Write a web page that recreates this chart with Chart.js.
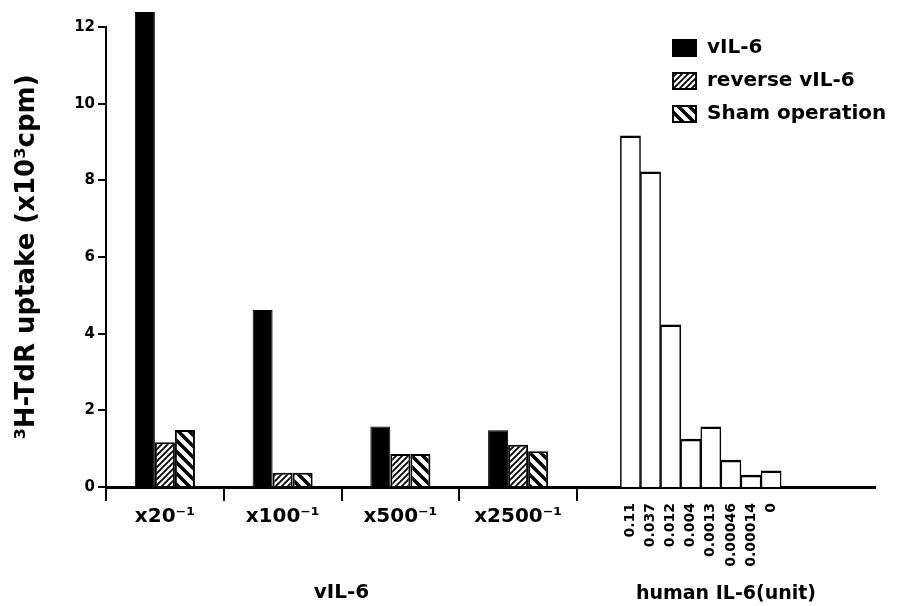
<!DOCTYPE html>
<html lang="en">

<head>
    <meta charset="UTF-8">
    <title>3H-TdR uptake</title>
    <script src="https://cdn.jsdelivr.net/npm/chart.js"></script>
    <style>
        html, body {
            margin: 0;
            padding: 0;
            background: #fff;
        }

        .container {
            position: relative;
            width: 899px;
            height: 606px;
        }

        .container canvas {
            position: absolute;
            top: 0;
            left: 0;
        }
    </style>
</head>

<body>
    <div class="container">
        <canvas id="graficoVil" width="899" height="606"></canvas>
        <canvas id="graficoHumano" width="899" height="606"></canvas>
    </div>
    <script>
        // supernatant dilutions
        const dilutions = ['x20⁻¹', 'x100⁻¹', 'x500⁻¹', 'x2500⁻¹'];
        const vil6 = [12.39, 4.62, 1.58, 1.48];
        const reverseVil6 = [1.17, 0.37, 0.86, 1.1];
        const shamOperation = [1.49, 0.37, 0.86, 0.93];

        // human IL-6 standard curve
        const humanDoses = ['0.11', '0.037', '0.012', '0.004', '0.0013', '0.00046', '0.00014', '0'];
        const humanUptake = [9.16, 8.22, 4.23, 1.25, 1.57, 0.70, 0.31, 0.42];

        Chart.defaults.font.family = '"DejaVu Sans", sans-serif';
        Chart.defaults.font.weight = 'bold';
        Chart.defaults.color = '#000';

        // both charts share the same value axis height
        const plotTop = 27;
        const xAxisHeight = 119;

        // diagonal hatch fill, "/" when forward is true, "\" otherwise
        function hatch(size, width, forward) {
            const c = document.createElement('canvas');
            c.width = size;
            c.height = size;
            const g = c.getContext('2d');
            g.fillStyle = '#fff';
            g.fillRect(0, 0, size, size);
            g.strokeStyle = '#000';
            g.lineWidth = width;
            g.beginPath();
            if (forward) {
                g.moveTo(0, size); g.lineTo(size, 0);
                g.moveTo(-size / 2, size / 2); g.lineTo(size / 2, -size / 2);
                g.moveTo(size / 2, size * 1.5); g.lineTo(size * 1.5, size / 2);
            } else {
                g.moveTo(0, 0); g.lineTo(size, size);
                g.moveTo(size / 2, -size / 2); g.lineTo(size * 1.5, size / 2);
                g.moveTo(-size / 2, size / 2); g.lineTo(size / 2, size * 1.5);
            }
            g.stroke();
            return g.createPattern(c, 'repeat');
        }

        // legend drawn as a column in the upper right corner
        const legendBox = {
            id: 'legendBox',
            afterDraw(chart, args, opts) {
                const ctx = chart.ctx;
                ctx.save();
                ctx.font = 'bold ' + opts.fontSize + 'px "DejaVu Sans"';
                ctx.textBaseline = 'middle';
                chart.data.datasets.forEach((ds, i) => {
                    const y = opts.top + i * opts.rowHeight;
                    ctx.fillStyle = ds.backgroundColor;
                    ctx.fillRect(opts.left, y - opts.boxHeight / 2, opts.boxWidth, opts.boxHeight);
                    ctx.lineWidth = 2;
                    ctx.strokeStyle = '#000';
                    ctx.strokeRect(opts.left + 1, y - opts.boxHeight / 2 + 1, opts.boxWidth - 2, opts.boxHeight - 2);
                    ctx.fillStyle = '#000';
                    ctx.fillText(ds.label, opts.left + opts.boxWidth + 10, y);
                });
                ctx.restore();
            }
        };

        // left part: vIL-6 dilutions with the value axis and legend
        new Chart(document.getElementById('graficoVil').getContext('2d'), {
            type: 'bar',
            data: {
                labels: dilutions,
                datasets: [
                    {
                        label: 'vIL-6',
                        data: vil6,
                        backgroundColor: '#000',
                        borderColor: '#000',
                        borderWidth: 1,
                        clip: false
                    },
                    {
                        label: 'reverse vIL-6',
                        data: reverseVil6,
                        backgroundColor: hatch(6, 1.8, true),
                        borderColor: '#000',
                        borderWidth: 2
                    },
                    {
                        label: 'Sham operation',
                        data: shamOperation,
                        backgroundColor: hatch(11, 3.5, false),
                        borderColor: '#000',
                        borderWidth: 2
                    }
                ]
            },
            options: {
                responsive: false,
                animation: false,
                layout: {
                    padding: { top: plotTop, right: 322, bottom: 0, left: 0 }
                },
                datasets: {
                    bar: {
                        categoryPercentage: 0.51,
                        barPercentage: 1
                    }
                },
                plugins: {
                    legend: { display: false },
                    tooltip: { enabled: false },
                    legendBox: {
                        left: 672,
                        top: 48,
                        rowHeight: 33,
                        boxWidth: 25,
                        boxHeight: 18,
                        fontSize: 20
                    }
                },
                scales: {
                    x: {
                        type: 'category',
                        offset: true,
                        grid: {
                            offset: true,
                            drawOnChartArea: false,
                            tickLength: 14,
                            color: '#000',
                            lineWidth: 2
                        },
                        border: { color: '#000', width: 3 },
                        ticks: {
                            autoSkip: false,
                            maxRotation: 0,
                            padding: 4,
                            font: { size: 20 }
                        },
                        title: {
                            display: true,
                            text: 'vIL-6',
                            font: { size: 20 },
                            padding: { top: 0, bottom: 1 }
                        },
                        afterFit: scale => { scale.height = xAxisHeight; }
                    },
                    y: {
                        min: 0,
                        max: 12,
                        afterFit: scale => { scale.width = 106; },
                        ticks: {
                            stepSize: 2,
                            padding: 3,
                            font: { size: 15 }
                        },
                        grid: {
                            drawOnChartArea: false,
                            tickLength: 8,
                            color: '#000',
                            lineWidth: 2
                        },
                        border: { color: '#000', width: 2 },
                        title: {
                            display: true,
                            text: '³H-TdR uptake (x10³cpm)',
                            font: { size: 26 },
                            padding: { top: 12, bottom: 0 }
                        }
                    }
                }
            },
            plugins: [legendBox]
        });

        // right part: human IL-6 standard, same value range, drawn over the left canvas
        new Chart(document.getElementById('graficoHumano').getContext('2d'), {
            type: 'bar',
            data: {
                datasets: [{
                    label: 'human IL-6',
                    data: humanUptake.map((y, i) => ({ x: i, y: y })),
                    categoryPercentage: 1,
                    barPercentage: 1,
                    backgroundColor: '#fff',
                    borderColor: '#000',
                    borderWidth: { top: 2.5, left: 1.5, right: 1.5, bottom: 0 }
                }]
            },
            options: {
                responsive: false,
                animation: false,
                layout: {
                    padding: { top: plotTop, right: 24, bottom: 0, left: 577 }
                },
                plugins: {
                    legend: { display: false },
                    tooltip: { enabled: false }
                },
                scales: {
                    x: {
                        type: 'linear',
                        min: -2.66,
                        max: 12.17,
                        offset: false,
                        grid: { display: false, drawTicks: false, offset: false },
                        border: { color: '#000', width: 3 },
                        afterBuildTicks: scale => {
                            scale.ticks = humanDoses.map((d, i) => ({ value: i }));
                        },
                        ticks: {
                            autoSkip: false,
                            minRotation: 90,
                            maxRotation: 90,
                            padding: 16,
                            font: { size: 14 },
                            callback: value => humanDoses[value]
                        },
                        title: {
                            display: true,
                            text: 'human IL-6(unit)',
                            font: { size: 19 },
                            padding: { top: 0, bottom: 1 }
                        },
                        afterFit: scale => { scale.height = xAxisHeight; }
                    },
                    y: {
                        display: false,
                        min: 0,
                        max: 12
                    }
                }
            }
        });
    </script>
</body>

</html>
